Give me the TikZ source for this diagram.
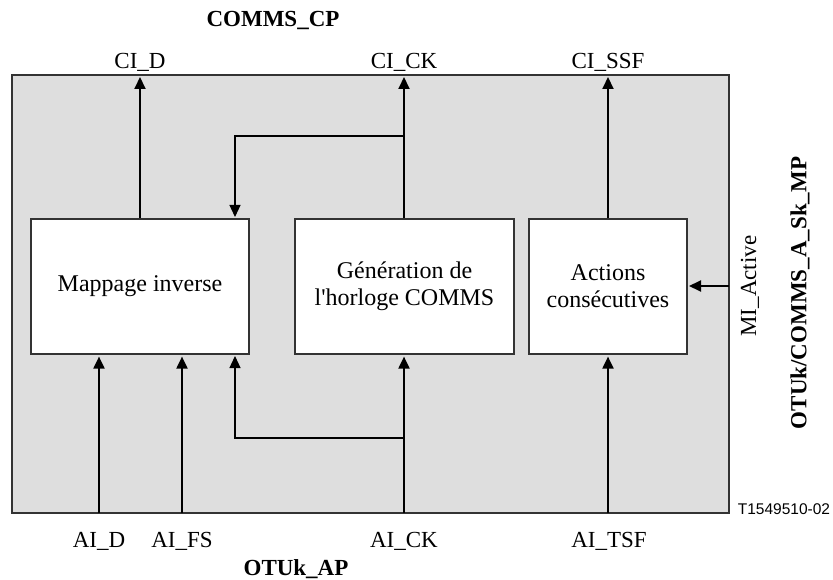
\documentclass[tikz,border=0pt]{standalone}
\usepackage{fontspec}
\setmainfont{Liberation Serif}
\newfontfamily\labsans{Liberation Sans}
\usetikzlibrary{arrows.meta}
\begin{document}
\begin{tikzpicture}[x=1pt,y=-1pt,
  font=\fontsize{23}{27}\selectfont,
  blk/.style={draw=black!80,line width=1.2pt,fill=white,inner sep=0pt,align=center,font=\fontsize{24}{27}\selectfont},
  arr/.style={line width=2pt,-{Triangle[length=12pt,width=11pt]},shorten >=2pt},
  thinarr/.style={line width=1.2pt,-{Triangle[length=12pt,width=11pt]},shorten >=2pt},
  lab/.style={inner sep=0pt,anchor=base},
  blab/.style={inner sep=0pt,anchor=base,font=\fontsize{23}{27}\selectfont\bfseries}]
\useasboundingbox (0,0) rectangle (833,580);
\fill[fill={rgb,255:red,222;green,222;blue,222}] (12,75) rectangle (729,513);
\node[draw=black!80,line width=1.2pt,minimum width=717pt,minimum height=438pt,inner sep=0pt] (frame) at (370.5,294) {};
\node[blk,minimum width=218pt,minimum height=135pt] (b1) at (140,286.5) {Mappage inverse};
\node[blk,minimum width=219pt,minimum height=135pt] (b2) at (404.5,286.5) {Génération de\\l\textquotesingle horloge COMMS};
\node[blk,minimum width=158pt,minimum height=135pt] (b3) at (608,286.5) {Actions\\consécutives};
% top labels
\node[blab] (cp) at (273,27) {COMMS\_CP};
\node[lab] (cid) at (140,69) {CI\_D};
\node[lab] (cick) at (404,69) {CI\_CK};
\node[lab] (cissf) at (608,69) {CI\_SSF};
% bottom labels
\node[lab] (aid) at (99,547) {AI\_D};
\node[lab] (aifs) at (182,547) {AI\_FS};
\node[lab] (aick) at (404,547) {AI\_CK};
\node[lab] (aitsf) at (609,547) {AI\_TSF};
\node[blab] (ap) at (296,575) {OTUk\_AP};
\node[inner sep=0pt,anchor=base,font=\labsans\fontsize{15.5}{18}\selectfont] (tid) at (784,514) {T1549510-02};
% right labels
\node[inner sep=0pt,rotate=90] (mia) at (750,286) {MI\_Active};
\node[inner sep=0pt,rotate=90,font=\fontsize{23}{27}\selectfont\bfseries] (mp) at (800,293) {OTUk/COMMS\_A\_Sk\_MP};
% coordinates
\coordinate (t1) at (140,75);
\coordinate (t2) at (404,75);
\coordinate (t3) at (608,75);
\coordinate (fb1) at (404,136);
\coordinate (fb2) at (235,136);
\coordinate (fb3) at (235,219);
\coordinate (s1) at (99,513);
\coordinate (s2) at (182,513);
\coordinate (s4) at (404,513);
\coordinate (s5) at (608,513);
\coordinate (bl1) at (404,438);
\coordinate (bl2) at (235,438);
\coordinate (bl3) at (235,354);
\coordinate (e1) at (729,286);
\coordinate (e2) at (687,286);
% top arrows
\draw[arr] (b1.north -| t1) -- (t1);
\draw[arr] (b2.north -| t2) -- (t2);
\draw[arr] (b3.north -| t3) -- (t3);
\draw[thinarr] (fb1) -- (fb2) -- (fb3);
% bottom arrows
\draw[arr] (s1) -- (s1 |- b1.south);
\draw[arr] (s2) -- (s2 |- b1.south);
\draw[arr] (s4) -- (s4 |- b2.south);
\draw[arr] (s5) -- (s5 |- b3.south);
\draw[thinarr] (bl1) -- (bl2) -- (bl3);
% MI arrow
\draw[arr] (e1) -- (e2);
\end{tikzpicture}
\end{document}
